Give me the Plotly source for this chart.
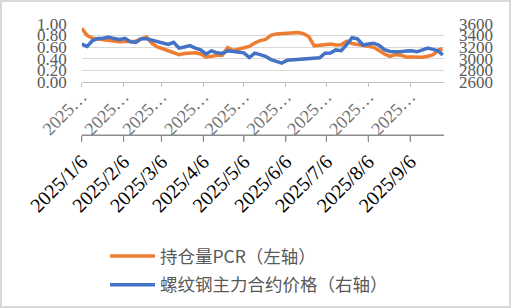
import plotly.graph_objects as go

dates = [
    "2025-01-06", "2025-01-10", "2025-01-14", "2025-01-18", "2025-01-22", "2025-01-26", "2025-01-30",
    "2025-02-03", "2025-02-07", "2025-02-11", "2025-02-15", "2025-02-19", "2025-02-23", "2025-02-27",
    "2025-03-03", "2025-03-07", "2025-03-11", "2025-03-15", "2025-03-19", "2025-03-23", "2025-03-27", "2025-03-31",
    "2025-04-04", "2025-04-08", "2025-04-12", "2025-04-16", "2025-04-20", "2025-04-24", "2025-04-28",
    "2025-05-02", "2025-05-06", "2025-05-10", "2025-05-14", "2025-05-18", "2025-05-22", "2025-05-26", "2025-05-30",
    "2025-06-03", "2025-06-07", "2025-06-11", "2025-06-15", "2025-06-19", "2025-06-23", "2025-06-27",
    "2025-07-01", "2025-07-05", "2025-07-09", "2025-07-13", "2025-07-17", "2025-07-21", "2025-07-25", "2025-07-29",
    "2025-08-02", "2025-08-06", "2025-08-10", "2025-08-14", "2025-08-18", "2025-08-22", "2025-08-26", "2025-08-30",
    "2025-09-03", "2025-09-07", "2025-09-11", "2025-09-15", "2025-09-19", "2025-09-23", "2025-09-27", "2025-09-30",
]

pcr = [
    0.92, 0.80, 0.75, 0.74, 0.725, 0.71, 0.70,
    0.69, 0.695, 0.69, 0.70, 0.74, 0.77, 0.66,
    0.60, 0.57, 0.54, 0.50, 0.47, 0.49, 0.50, 0.50,
    0.48, 0.43, 0.44, 0.46, 0.46, 0.59, 0.54,
    0.56, 0.58, 0.61, 0.67, 0.71, 0.73, 0.80, 0.825,
    0.835, 0.845, 0.855, 0.85, 0.83, 0.78, 0.62,
    0.625, 0.64, 0.65, 0.635, 0.64, 0.70, 0.66, 0.64,
    0.62, 0.61, 0.595, 0.54, 0.48, 0.44, 0.47, 0.46,
    0.43, 0.43, 0.425, 0.425, 0.44, 0.47, 0.55, 0.57,
]

price = [
    3250, 3210, 3310, 3345, 3350, 3370, 3345,
    3330, 3350, 3290, 3280, 3340, 3340, 3315,
    3295, 3270, 3245, 3280, 3180, 3200, 3225, 3180,
    3150, 3080, 3135, 3100, 3090, 3135, 3125,
    3115, 3100, 3020, 3095, 3070, 3040, 2985, 2950,
    2925, 2975, 2980, 2982, 2990, 3000, 3005,
    3015, 3095, 3097, 3150, 3137, 3240, 3360, 3340,
    3235, 3252, 3265, 3230, 3155, 3125, 3118, 3120,
    3130, 3135, 3118, 3150, 3183, 3160, 3130, 3065,
]

tick_dates = ["2025-01-06", "2025-02-06", "2025-03-06", "2025-04-06", "2025-05-06",
              "2025-06-06", "2025-07-06", "2025-08-06", "2025-09-06"]
tick_full = ["2025/1/6", "2025/2/6", "2025/3/6", "2025/4/6", "2025/5/6",
             "2025/6/6", "2025/7/6", "2025/8/6", "2025/9/6"]
tick_short = ["2025…"] * len(tick_dates)

left_ticks = [0, 0.2, 0.4, 0.6, 0.8, 1.0]
right_ticks = [2600, 2800, 3000, 3200, 3400, 3600]

name_pcr = "持仓量PCR（左轴）"
name_price = "螺纹钢主力合约价格（右轴）"

W, H = 511, 308
xl, xr = 81.7, 444.0
yt, yb = 23.7, 82.0
dom_x = [xl / W, xr / W]
dom_y = [1 - yb / H, 1 - yt / H]
low_axis_y = 135.0
low_pos = 1 - low_axis_y / H
dom_y3 = [low_pos, 1 - (low_axis_y - 1) / H]
x_range = ["2025-01-06", "2025-10-01"]

serif = "Liberation Serif, Times New Roman, DejaVu Serif, serif"
gray = "#595959"
low_line = "#8C8C8C"

fig = go.Figure()
fig.add_trace(go.Scatter(x=dates, y=pcr, name=name_pcr, mode="lines",
                         line=dict(color="#ED7D31", width=3.5),
                         xaxis="x", yaxis="y", legendgroup="a"))
fig.add_trace(go.Scatter(x=dates, y=price, name=name_price, mode="lines",
                         line=dict(color="#4472C4", width=3.5),
                         xaxis="x", yaxis="y2", legendgroup="b"))
# carrier for the lower (full-date) category axis
fig.add_trace(go.Scatter(x=dates, y=pcr, mode="lines", line=dict(width=0),
                         opacity=0, showlegend=False, hoverinfo="skip",
                         xaxis="x2", yaxis="y3"))

shapes = [dict(type="rect", xref="paper", yref="paper", x0=0, y0=0, x1=1, y1=1,
               line=dict(color="#D9D9D9", width=4), fillcolor="rgba(0,0,0,0)"),
          dict(type="line", xref="paper", yref="paper", x0=dom_x[0], x1=dom_x[1],
               y0=low_pos, y1=low_pos, line=dict(color=low_line, width=1.2))]
for td in tick_dates:
    shapes.append(dict(type="line", xref="x2", yref="paper", x0=td, x1=td,
                       y0=low_pos, y1=low_pos - 6 / H, line=dict(color=low_line, width=1.2)))

fig.update_layout(
    width=W, height=H,
    margin=dict(l=0, r=0, t=0, b=0, autoexpand=False),
    paper_bgcolor="white", plot_bgcolor="white",
    showlegend=True,
    xaxis=dict(domain=dom_x, range=x_range, type="date", automargin=False,
               tickmode="array", tickvals=tick_dates, ticktext=tick_short,
               tickangle=-45, tickfont=dict(family=serif, size=18, color="#6E6E6E"),
               ticklabelstandoff=-8,
               showgrid=False, showline=True, linecolor="#BFBFBF", linewidth=1,
               ticks="outside", ticklen=4, tickcolor="#BFBFBF", anchor="y",
               zeroline=False),
    xaxis2=dict(domain=dom_x, range=x_range, type="date", automargin=False,
                anchor="y3",
                tickmode="array", tickvals=tick_dates, ticktext=tick_full,
                tickangle=-45, tickfont=dict(family=serif, size=20, color="#000000"),
                showgrid=False, showline=True, linecolor=low_line, linewidth=1.2,
                ticks="outside", ticklen=6, tickcolor=low_line, tickwidth=1.2,
                zeroline=False),
    yaxis=dict(domain=dom_y, range=[0, 1], tickmode="array", tickvals=left_ticks,
               automargin=False,
               tickformat=".2f", tickfont=dict(family=serif, size=17, color=gray),
               showgrid=True, gridcolor="#D9D9D9", gridwidth=1, showline=False,
               zeroline=False, ticks="", ticklabelstandoff=14, anchor="x"),
    yaxis2=dict(domain=dom_y, range=[2600, 3600], tickmode="array", tickvals=right_ticks,
                overlaying="y", side="right", anchor="x", automargin=False,
                tickfont=dict(family=serif, size=17, color=gray),
                showgrid=False, showline=False, zeroline=False, ticks="",
                ticklabelstandoff=14),
    yaxis3=dict(domain=dom_y3, range=[0, 1], anchor="x2", automargin=False,
                showgrid=False, showline=False, zeroline=False, showticklabels=False,
                ticks=""),
    legend=dict(x=105 / W, y=1 - 238 / H, xanchor="left", yanchor="top",
                orientation="v", traceorder="grouped", tracegroupgap=3,
                font=dict(family="Noto Sans CJK SC", size=17.5, color=gray),
                itemwidth=45, bgcolor="rgba(0,0,0,0)"),
    shapes=shapes,
)

fig.write_html("out.html")
